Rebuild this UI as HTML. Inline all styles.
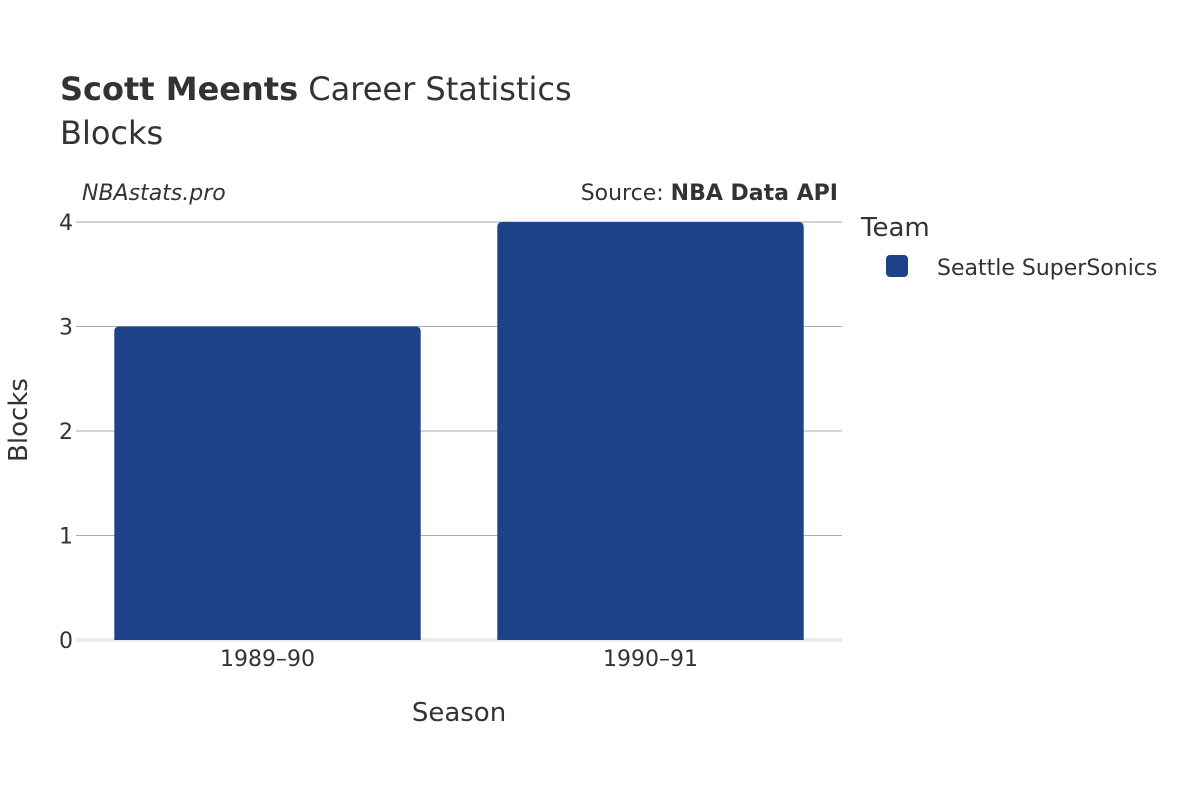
<!DOCTYPE html>
<html><head><meta charset="utf-8"><style>
body{margin:0;background:#fff;}
svg{font-family:"DejaVu Sans","Liberation Sans",sans-serif;}
</style></head><body>
<svg id="chart" width="1200" height="800" viewBox="0 0 1200 800">
<text x="60" y="100" font-size="32" fill="#333"><tspan font-weight="bold">Scott Meents</tspan> Career Statistics</text>
<text x="60" y="144" font-size="32" fill="#333">Blocks</text>
<text x="82" y="200" font-size="22" font-style="italic" fill="#333">NBAstats.pro</text>
<text x="838" y="200" font-size="22" fill="#333" text-anchor="end">Source: <tspan font-weight="bold">NBA Data API</tspan></text>
<g id="grid"></g>
<g id="bars"></g>
<g id="xticks"></g>
<text x="459" y="721" font-size="26" fill="#333" text-anchor="middle">Season</text>
<text transform="translate(27,420) rotate(-90)" font-size="26" fill="#333" text-anchor="middle">Blocks</text>
<text x="861" y="236" font-size="26" fill="#333">Team</text>
<g>
<rect x="886" y="255" width="22" height="22" rx="4" fill="#1d4288"/>
<text x="937" y="275" font-size="22" fill="#333">Seattle SuperSonics</text>
</g>
</svg>
<script>
const categories=["1989–90","1990–91"];
const values=[3,4];
const yTicks=[0,1,2,3,4];
const NS="http://www.w3.org/2000/svg";
const x0=76,x1=842,yTop=222,yBot=640,yMax=4;
const y=v=>yBot-(v/yMax)*(yBot-yTop);
const band=(x1-x0)/categories.length;
const grid=document.getElementById('grid'),bars=document.getElementById('bars'),xt=document.getElementById('xticks');
function mk(t,a,p){const e=document.createElementNS(NS,t);for(const k in a)e.setAttribute(k,a[k]);p.appendChild(e);return e;}
yTicks.forEach(t=>{
  const l=mk('line',{x1:x0,x2:x1,y1:y(t),y2:y(t),stroke:t===0?'#ebebeb':'#aaa','stroke-width':t===0?4:1},grid);
  
  
  const tx=mk('text',{x:73,y:y(t)+8,'font-size':22,fill:'#333','text-anchor':'end'},grid);
  tx.textContent=t;
  
  
});
categories.forEach((c,i)=>{
  const bx=x0+band*i+band*0.1,bw=band*0.8,top=y(values[i]),r=5;
  const d=`M${bx},${yBot} L${bx},${top+r} Q${bx},${top} ${bx+r},${top} L${bx+bw-r},${top} Q${bx+bw},${top} ${bx+bw},${top+r} L${bx+bw},${yBot} Z`;
  const p=mk('path',{d:d,fill:'#1d4288'},bars);
  
  
  const tx=mk('text',{x:x0+band*(i+0.5),y:666,'font-size':22,fill:'#333','text-anchor':'middle'},xt);
  tx.textContent=c;
  
  
});
</script>
</body></html>
